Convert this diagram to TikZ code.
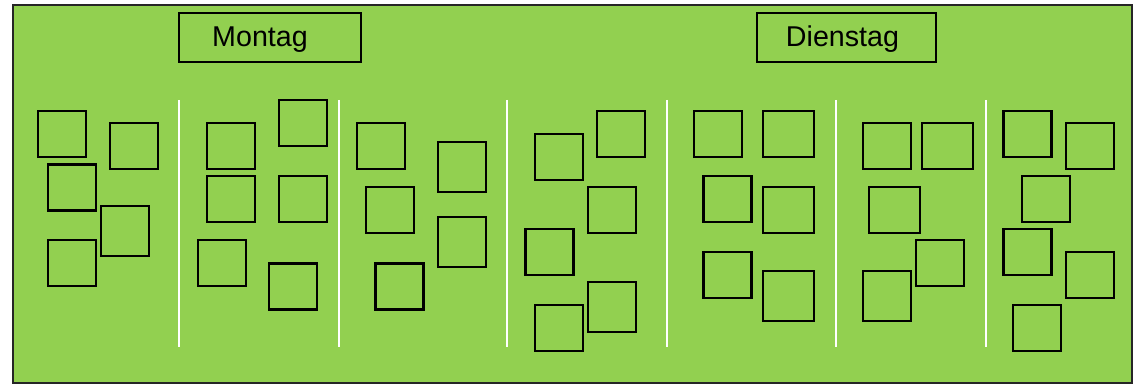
\documentclass[tikz,border=0pt]{standalone}
\usepackage{fontspec}
\setmainfont{Liberation Sans}
\usetikzlibrary{positioning}
\definecolor{boardgreen}{RGB}{146,208,80}

\begin{document}
\begin{tikzpicture}[
    x=0.02cm, y=-0.02cm,
    board/.style={rectangle, draw=black!85, fill=boardgreen, line width=1.3pt,
                  minimum width=22.38cm, minimum height=7.56cm, inner sep=0pt},
    daybox/.style={rectangle, draw=black, line width=1.5pt,
                   minimum height=0.98cm, inner sep=0pt},
    daylabel/.style={anchor=base, inner sep=0pt, font=\fontsize{16.3}{19}\selectfont},
    note/.style={rectangle, draw=black, line width=1.5pt,
                 minimum width=0.96cm, minimum height=0.92cm, inner sep=0pt},
    tall/.style={note, minimum height=1cm},
    wide/.style={note, minimum width=1.02cm},
    separator/.style={draw=white, line width=1.2pt}
  ]
    \useasboundingbox (0,0) rectangle (1142,385);

    % Board
    \node[board] (board) at (572.5,194) {};

    % Day headers
    \node[daybox, minimum width=3.64cm] (montagbox) at (270,37.5) {};
    \node[daylabel] (montag) at (260,47) {Montag};
    \node[daybox, minimum width=3.58cm] (dienstagbox) at (846.5,37.5) {};
    \node[daylabel] (dienstag) at (842.5,47) {Dienstag};

    % Column separators
    \draw[separator] (179,100) -- (179,347);
    \draw[separator] (339,100) -- (339,347);
    \draw[separator] (507,100) -- (507,347);
    \draw[separator] (667,100) -- (667,347);
    \draw[separator] (836,100) -- (836,347);
    \draw[separator] (986,100) -- (986,347);

    % Column 1
    \node[note] (n1) at (62,134) {};
    \node[note] (n2) at (134,146) {};
    \node[note] (n3) at (72,187.5) {};
    \node[tall] (n4) at (125,231) {};
    \node[note] (n5) at (72,263) {};

    % Column 2
    \node[note] (n6) at (231,146) {};
    \node[note] (n7) at (303,123) {};
    \node[note] (n8) at (231,199) {};
    \node[note] (n9) at (303,199) {};
    \node[note] (n10) at (222,263) {};
    \node[note] (n11) at (293,286.5) {};

    % Column 3
    \node[note] (n12) at (381,146) {};
    \node[note] (n13) at (390,210) {};
    \node[note] (n14) at (399.5,286.5) {};
    \node[tall] (n15) at (462,167) {};
    \node[tall] (n16) at (462,242) {};

    % Column 4
    \node[note] (n17) at (559,157) {};
    \node[note] (n18) at (621,134) {};
    \node[note] (n19) at (612,210) {};
    \node[note] (n20) at (549.5,252) {};
    \node[tall] (n21) at (612,307) {};
    \node[note] (n22) at (559,328) {};

    % Column 5
    \node[note] (n23) at (718,134) {};
    \node[wide] (n24) at (788.5,134) {};
    \node[note] (n25) at (727.5,199) {};
    \node[wide] (n26) at (788.5,210) {};
    \node[note] (n27) at (727.5,275) {};
    \node[wide, minimum height=1cm] (n28) at (788.5,296) {};

    % Column 6
    \node[note] (n29) at (887,146) {};
    \node[wide] (n30) at (947.5,146) {};
    \node[wide] (n31) at (894.5,210) {};
    \node[note] (n32) at (940,263) {};
    \node[tall] (n33) at (887,296) {};

    % Column 7
    \node[note] (n34) at (1027.5,134) {};
    \node[note] (n35) at (1090,146) {};
    \node[note] (n36) at (1046,199) {};
    \node[note] (n37) at (1027.5,252) {};
    \node[note] (n38) at (1090,275) {};
    \node[note] (n39) at (1037,328) {};

  \end{tikzpicture}
\end{document}
